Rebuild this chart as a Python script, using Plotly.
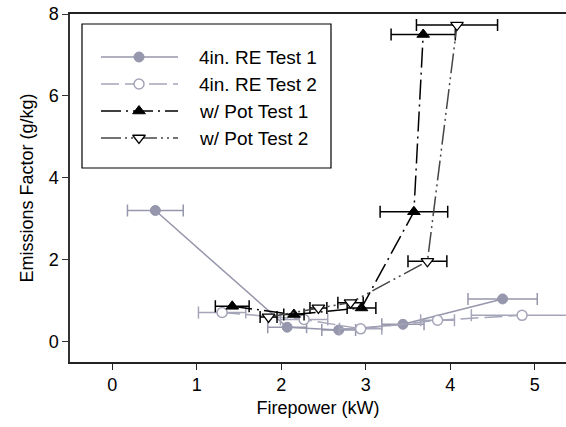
import plotly.graph_objects as go

# ---- data ----
re1_x = [0.51, 2.07, 2.68, 3.44, 4.62]
re1_y = [3.20, 0.35, 0.28, 0.42, 1.04]
re1_xerr = [0.33, 0.23, 0.20, 0.25, 0.41]

re2_x = [1.30, 2.27, 2.94, 3.85, 4.85]
re2_y = [0.71, 0.54, 0.31, 0.52, 0.64]
re2_xerr = [0.28, 0.28, 0.25, 0.20, 0.60]

pot1_x = [1.42, 2.15, 2.95, 3.57, 3.68]
pot1_y = [0.86, 0.66, 0.82, 3.17, 7.50]
pot1_xerr = [0.20, 0.12, 0.17, 0.40, 0.38]

pot2_x = [1.85, 2.44, 2.82, 3.73, 4.08]
pot2_y = [0.60, 0.82, 0.95, 1.96, 7.73]
pot2_xerr = [0.10, 0.10, 0.15, 0.23, 0.48]

names = ["4in. RE Test 1", "4in. RE Test 2", "w/ Pot Test 1", "w/ Pot Test 2"]
x_ticks = [0, 1, 2, 3, 4, 5]
y_ticks = [0, 2, 4, 6, 8]

GRAY1 = "rgb(150,150,172)"
GRAY2 = "rgb(165,165,185)"
BLACK = "black"
DGRAY = "rgb(70,70,70)"

styles = [
    dict(line=dict(color=GRAY1, width=1.5, dash="solid"),
         marker=dict(symbol="circle", size=10, color=GRAY1, line=dict(color=GRAY1, width=1)),
         err=GRAY1),
    dict(line=dict(color=GRAY2, width=1.5, dash="18px,6px"),
         marker=dict(symbol="circle", size=10, color="white", line=dict(color=GRAY2, width=1.5)),
         err=GRAY2),
    dict(line=dict(color=BLACK, width=1.5, dash="20px,5px,2px,5px"),
         marker=dict(symbol="triangle-up", size=11, color=BLACK, line=dict(color=BLACK, width=1)),
         err=BLACK),
    dict(line=dict(color=DGRAY, width=1.5, dash="20px,4px,2px,4px,2px,4px"),
         marker=dict(symbol="triangle-down", size=11, color="white", line=dict(color=BLACK, width=1.3)),
         err=BLACK),
]

series = [(re1_x, re1_y, re1_xerr), (re2_x, re2_y, re2_xerr),
          (pot1_x, pot1_y, pot1_xerr), (pot2_x, pot2_y, pot2_xerr)]

fig = go.Figure()
for (xs, ys, xe), st, nm in zip(series, styles, names):
    fig.add_trace(go.Scatter(
        x=xs, y=ys, mode="lines+markers", name=nm,
        line=st["line"], marker=st["marker"],
        error_x=dict(type="data", array=xe, visible=True, color=st["err"],
                     thickness=1.5, width=6),
        showlegend=False, cliponaxis=False,
    ))

# ---- custom legend (inset axes in pixel-like units) ----
leg_rows = [57, 84, 111, 138]
for i, (st, nm) in enumerate(zip(styles, names)):
    fig.add_trace(go.Scatter(
        x=[101, 178], y=[leg_rows[i], leg_rows[i]], mode="lines",
        line=st["line"], xaxis="x2", yaxis="y2", showlegend=False, hoverinfo="skip"))
    fig.add_trace(go.Scatter(
        x=[139], y=[leg_rows[i]], mode="markers",
        marker=st["marker"], xaxis="x2", yaxis="y2", showlegend=False, hoverinfo="skip"))
    fig.add_annotation(x=197, y=leg_rows[i], xref="x2", yref="y2", text=nm,
                       showarrow=False, xanchor="left", yanchor="middle",
                       font=dict(size=19, color="black"))

L, R, T, B = 70, 566, 14, 362
W, H = R - L, B - T
def px(v): return (v - L) / W
def py(v): return (B - v) / H

bx0, bx1, by0, by1 = 82, 331, 24, 168

fig.add_shape(type="rect", xref="paper", yref="paper",
              x0=px(bx0), x1=px(bx1), y0=py(by1), y1=py(by0),
              line=dict(color="black", width=1.2), fillcolor="rgba(0,0,0,0)")

fig.update_layout(
    width=566, height=427,
    margin=dict(l=70, r=0, t=14, b=65),
    paper_bgcolor="white", plot_bgcolor="white",
    font=dict(family="Liberation Sans, Arial, sans-serif", size=18, color="black"),
    xaxis=dict(range=[-0.5, 5.37], tickvals=x_ticks, showgrid=False, zeroline=False,
               showline=True, linecolor="#222", linewidth=1.5, mirror=True,
               ticks="outside", ticklen=6, tickwidth=1.3, tickcolor="#222",
               title=dict(text="Firepower (kW)", standoff=7, font=dict(size=18))),
    yaxis=dict(range=[-0.5, 8], tickvals=y_ticks, showgrid=False, zeroline=False,
               showline=True, linecolor="#333", linewidth=1.5,
               ticks="outside", ticklen=6, tickwidth=1.3, tickcolor="#333",
               title=dict(text="Emissions Factor (g/kg)", standoff=10, font=dict(size=18))),
    xaxis2=dict(domain=[px(bx0), px(bx1)], range=[bx0, bx1], anchor="y2",
                visible=False, fixedrange=True),
    yaxis2=dict(domain=[py(by1), py(by0)], range=[by1, by0], anchor="x2",
                visible=False, fixedrange=True),
)

fig.write_html("out.html")
